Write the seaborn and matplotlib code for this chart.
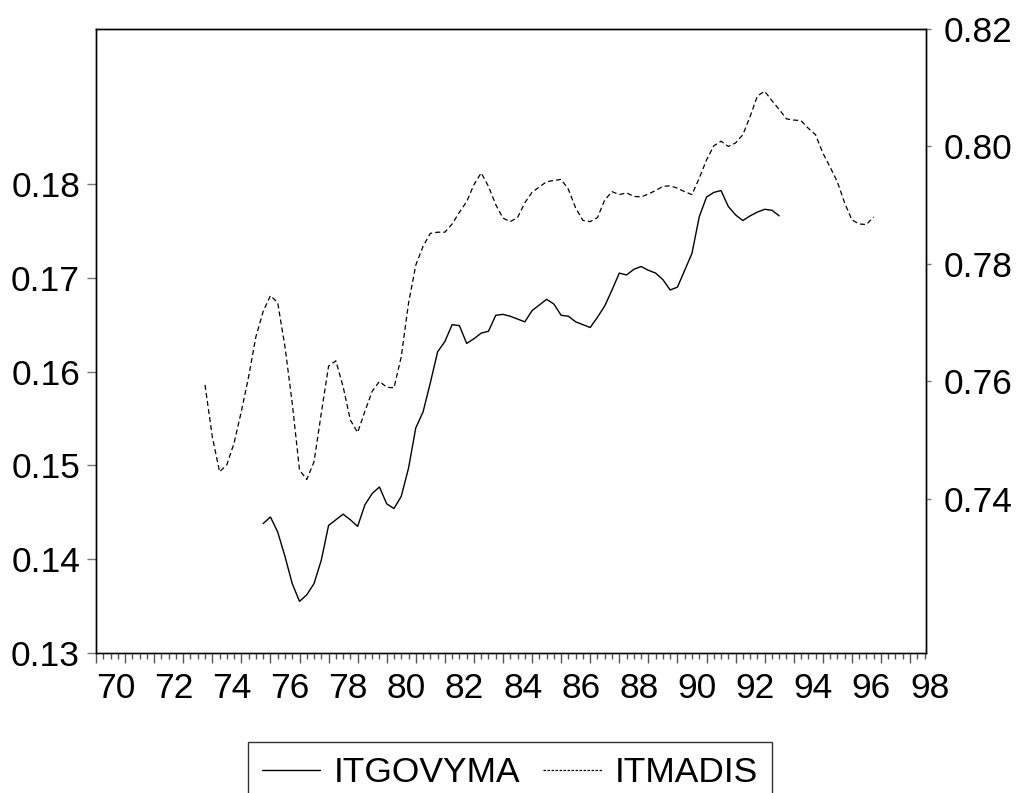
import pandas as pd
import matplotlib
matplotlib.use("Agg")
import matplotlib.pyplot as plt
import matplotlib.ticker as mticker
from matplotlib.lines import Line2D
import seaborn as sns

# data (quarterly)
GOV_START = "1975Q4"
MAD_START = "1973Q4"

itgovyma = [
    0.1438, 0.1445, 0.1429, 0.1403, 0.1374, 0.1355, 0.1362, 0.1374, 0.1399, 0.1436,
    0.1442, 0.1448, 0.1442, 0.1435, 0.1458, 0.1470, 0.1477, 0.1459, 0.1454, 0.1467,
    0.1497, 0.1540, 0.1557, 0.1588, 0.1621, 0.1632, 0.1650, 0.1649, 0.1630, 0.1635,
    0.1641, 0.1643, 0.1660, 0.1661, 0.1659, 0.1656, 0.1653, 0.1665, 0.1671, 0.1677,
    0.1672, 0.1660, 0.1659, 0.1653, 0.1650, 0.1647, 0.1658, 0.1670, 0.1687, 0.1705,
    0.1703, 0.1709, 0.1712, 0.1708, 0.1705, 0.1698, 0.1687, 0.1690, 0.1708, 0.1726,
    0.1765, 0.1786, 0.1791, 0.1793, 0.1776, 0.1767, 0.1761, 0.1766, 0.1770, 0.1773,
    0.1772, 0.1766,
]

itmadis = [
    0.7594, 0.7506, 0.7446, 0.7458, 0.7495, 0.7549, 0.7608, 0.7676, 0.7719, 0.7746,
    0.7734, 0.7659, 0.7563, 0.7449, 0.7433, 0.7463, 0.7546, 0.7626, 0.7635, 0.7591,
    0.7534, 0.7513, 0.7549, 0.7583, 0.7600, 0.7590, 0.7589, 0.7642, 0.7733, 0.7798,
    0.7830, 0.7852, 0.7854, 0.7854, 0.7868, 0.7888, 0.7906, 0.7935, 0.7955, 0.7932,
    0.7901, 0.7878, 0.7872, 0.7879, 0.7904, 0.7922, 0.7931, 0.7940, 0.7942, 0.7944,
    0.7927, 0.7895, 0.7874, 0.7872, 0.7879, 0.7909, 0.7923, 0.7918, 0.7921, 0.7915,
    0.7914, 0.7919, 0.7925, 0.7932, 0.7933, 0.7929, 0.7923, 0.7918, 0.7946, 0.7977,
    0.8001, 0.8009, 0.8000, 0.8006, 0.8020, 0.8051, 0.8086, 0.8094, 0.8078, 0.8063,
    0.8047, 0.8045, 0.8044, 0.8031, 0.8020, 0.7989, 0.7965, 0.7940, 0.7904, 0.7875,
    0.7868, 0.7867, 0.7880,
]

left_ticks = [0.13, 0.14, 0.15, 0.16, 0.17, 0.18]
right_ticks = [0.74, 0.76, 0.78, 0.80, 0.82]


def to_frame(start, values):
    per = pd.period_range(start, periods=len(values), freq="Q")
    t = per.year + (per.quarter - 1) / 4
    return pd.DataFrame({"t": t, "v": values})


gov = to_frame(GOV_START, itgovyma)
mad = to_frame(MAD_START, itmadis)

sns.set_style("white")
plt.rcParams["font.family"] = ["Liberation Sans", "DejaVu Sans"]
plt.rcParams["text.color"] = "black"
FS = 25.5

fig = plt.figure(figsize=(10.18, 7.93), dpi=100)
ax = fig.add_axes([96 / 1018, 1 - 653 / 793, 830 / 1018, 624 / 793])
ax2 = ax.twinx()

sns.lineplot(data=gov, x="t", y="v", ax=ax, color="black", linewidth=1.0, legend=False)
sns.lineplot(data=mad, x="t", y="v", ax=ax2, color="black", linewidth=0.9,
             linestyle=(0, (4, 2.5)), legend=False)

ax.set_xlim(1970, 1998.55)
ax.set_ylim(0.13, 0.19652)
ax2.set_ylim(0.71375, 0.82)

ax.set_xlabel("")
ax.set_ylabel("")
ax2.set_ylabel("")

ax.set_yticks(left_ticks)
ax.yaxis.set_major_formatter(mticker.FuncFormatter(lambda v, _: f"{v:.2f}"))
ax2.set_yticks(right_ticks)
ax2.yaxis.set_major_formatter(mticker.FuncFormatter(lambda v, _: f"{v:.2f}"))

ax.xaxis.set_major_locator(mticker.MultipleLocator(1))
ax.xaxis.set_minor_locator(mticker.MultipleLocator(0.25))
ax.xaxis.set_major_formatter(mticker.FuncFormatter(
    lambda v, _: f"{int(round(v)) % 100:02d}" if int(round(v)) % 2 == 0 else ""))

ax.tick_params(axis="x", which="major", direction="out", length=7, width=1,
               color="#555555", labelcolor="black", labelsize=FS, pad=7, bottom=True)
ax.tick_params(axis="x", which="minor", direction="out", length=4.5, width=1,
               color="#555555", bottom=True)
ax.tick_params(axis="y", direction="out", length=6.5, width=1, color="#777777",
               labelcolor="black", labelsize=FS, pad=5, left=True)
ax2.tick_params(axis="y", direction="out", length=3.6, width=1, color="#777777",
                labelcolor="black", labelsize=FS, pad=9, right=True)
for lbl in ax.get_xticklabels():
    lbl.set_horizontalalignment("left")

for a in (ax, ax2):
    for side, sp in a.spines.items():
        sp.set_visible(True)
        sp.set_color("black")
        sp.set_linewidth(1.0)
ax.spines["bottom"].set_color("#555555")

handles = [Line2D([], [], color="black", linewidth=1.0),
           Line2D([], [], color="black", linewidth=0.9, linestyle=(0, (2, 1.2)))]
leg = fig.legend(handles, ["ITGOVYMA", "ITMADIS"], loc="upper center",
                 bbox_to_anchor=(0.501, 1 - 742 / 793), ncol=2, fontsize=FS,
                 frameon=True, fancybox=False, edgecolor="black",
                 handlelength=1.65, handletextpad=0.37, columnspacing=0.65,
                 borderpad=0.4, borderaxespad=0)
leg.get_frame().set_linewidth(1.0)
for txt in leg.get_texts():
    txt.set_color("black")

fig.savefig("out.png", dpi=100)
